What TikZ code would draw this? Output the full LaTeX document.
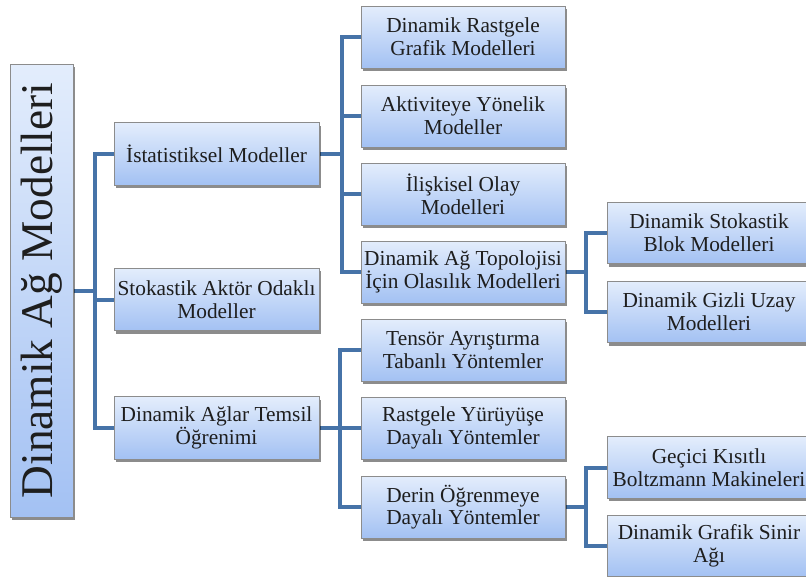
\documentclass[tikz,border=0pt]{standalone}
\usepackage{fontspec}
\setmainfont{Liberation Serif}
\usetikzlibrary{shadows,backgrounds}
\definecolor{boxtop}{HTML}{E3EDFC}
\definecolor{boxbot}{HTML}{A3C1F3}
\definecolor{boxline}{HTML}{8C8C8C}
\definecolor{connc}{HTML}{4673A8}
\definecolor{txt}{HTML}{1E1E1E}
\tikzset{
  box/.style={draw=boxline, line width=0.6pt, top color=boxtop, bottom color=boxbot,
    align=center, inner sep=0pt, text=txt,
    font=\fontsize{16}{17}\selectfont,
    drop shadow={shadow xshift=1.6pt, shadow yshift=-2.2pt, opacity=0.45, fill=black}},
  lone/.style={box, minimum width=153.75pt, minimum height=46.75pt},
  ltwo/.style={box, minimum width=153pt, minimum height=46.5pt},
  lthree/.style={box, minimum width=153pt, minimum height=46pt},
  rootbox/.style={box, minimum width=47.25pt, minimum height=339.75pt},
  conn/.style={draw=connc, line width=3pt}
}
\begin{document}
\begin{tikzpicture}[x=0.75pt,y=-0.75pt]
\useasboundingbox (0,0) rectangle (806,576);
\clip (0,0) rectangle (806,576);
% root
\node[rootbox] (root) at (41.5,290.5) {};
\node[rotate=90, font=\fontsize{34}{36}\selectfont, text=txt] (roottxt) at (root.center) {Dinamik Ağ Modelleri};
% level 1
\node[lone] (ist) at (216.5,154) {İstatistiksel Modeller};
\node[lone] (stok) at (216.5,299.5) {Stokastik Aktör Odaklı\\Modeller};
\node[lone] (dal) at (216.5,428) {Dinamik Ağlar Temsil\\Öğrenimi};
% level 2
\node[ltwo] (b1) at (463,37) {Dinamik Rastgele\\Grafik Modelleri};
\node[ltwo] (b2) at (463,116) {Aktiviteye Yönelik\\Modeller};
\node[ltwo] (b3) at (463,194) {İlişkisel Olay\\Modelleri};
\node[ltwo] (b4) at (463,272) {Dinamik Ağ Topolojisi\\İçin Olasılık Modelleri};
\node[ltwo] (t1) at (463,350) {Tensör Ayrıştırma\\Tabanlı Yöntemler};
\node[ltwo] (t2) at (463,428) {Rastgele Yürüyüşe\\Dayalı Yöntemler};
\node[ltwo] (t3) at (463,507) {Derin Öğrenmeye\\Dayalı Yöntemler};
% level 3
\node[lthree] (s1) at (709,233) {Dinamik Stokastik\\Blok Modelleri};
\node[lthree] (s2) at (709,312) {Dinamik Gizli Uzay\\Modelleri};
\node[lthree] (g1) at (709,467.5) {Geçici Kısıtlı\\Boltzmann Makineleri};
\node[lthree] (g2) at (709,546) {Dinamik Grafik Sinir\\Ağı};
% junctions
\coordinate (j1) at (95,290.5);
\coordinate (j2) at (342,154);
\coordinate (j3) at (340,428);
\coordinate (j4) at (586,272);
\coordinate (j5) at (586,507);
\begin{pgfonlayer}{background}
\draw[conn] (root.east) -- (j1);
\draw[conn] (ist.west) -| (j1 |- dal.west) -- (dal.west);
\draw[conn] (j1 |- stok.west) -- (stok.west);
\draw[conn] (ist.east) -- (j2);
\draw[conn] (b1.west) -| (j2 |- b4.west) -- (b4.west);
\draw[conn] (j2 |- b2.west) -- (b2.west);
\draw[conn] (j2 |- b3.west) -- (b3.west);
\draw[conn] (dal.east) -- (t2.west);
\draw[conn] (t1.west) -| (j3 |- t3.west) -- (t3.west);
\draw[conn] (b4.east) -- (j4);
\draw[conn] (s1.west) -| (j4 |- s2.west) -- (s2.west);
\draw[conn] (t3.east) -- (j5);
\draw[conn] (g1.west) -| (j5 |- g2.west) -- (g2.west);
\end{pgfonlayer}
\end{tikzpicture}
\end{document}
